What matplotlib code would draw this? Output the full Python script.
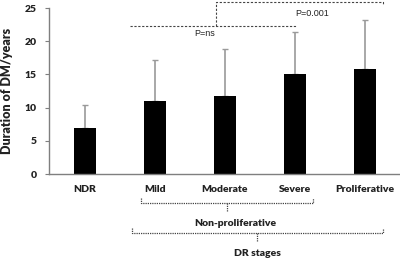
import matplotlib
matplotlib.use("Agg")
import matplotlib.pyplot as plt
import numpy as np

categories = ["NDR", "Mild", "Moderate", "Severe", "Proliferative"]
means = [6.9, 11.0, 11.7, 15.1, 15.8]
sds = [3.5, 6.1, 7.2, 6.3, 7.4]
yticks = [0, 5, 10, 15, 20, 25]

W, H = 400, 262
fig = plt.figure(figsize=(W / 100, H / 100), dpi=100)
ax = fig.add_axes([49 / W, 1 - 174 / H, 350 / W, 166 / H])

x = np.arange(len(categories))
ax.bar(x, means, width=0.314, color="black", zorder=2)
ax.errorbar(x, means, yerr=[np.zeros(len(sds)), sds], fmt="none",
            ecolor="#9a9a9a", elinewidth=1.2, capsize=2.5, capthick=1.0, zorder=1)

ax.set_xlim(-0.514, 4.486)
ax.set_ylim(0, 25)
ax.set_yticks(yticks)
ax.set_xticks(x)
ax.set_xticklabels(categories)
for s in ["top", "right"]:
    ax.spines[s].set_visible(False)
for s in ["left", "bottom"]:
    ax.spines[s].set_color("#7f7f7f")
    ax.spines[s].set_linewidth(1.0)
ax.tick_params(axis="y", length=3, color="#7f7f7f", pad=6, labelsize=7.5)
ax.tick_params(axis="x", length=0, pad=8, labelsize=7.5)
for lab in ax.get_xticklabels() + ax.get_yticklabels():
    lab.set_fontweight("heavy")
    lab.set_fontfamily("Lato")
    lab.set_color("#222222")
ax.set_ylabel("Duration of DM/years", fontsize=9, fontweight="heavy",
              fontfamily="Lato", labelpad=8, color="#222222")

# significance annotations (data coordinates)
dash = dict(color="#444444", lw=0.8, ls=(0, (2, 1.5)), clip_on=False)
ax.plot([0.643, 3.03], [22.3, 22.3], **dash)
ax.text(1.71, 21.2, "P=ns", fontsize=6.5, ha="center", va="center",
        fontfamily="Liberation Sans", color="#222222")
ax.plot([1.87, 1.87, 4.26, 4.26], [22.3, 25.9, 25.9, 25.45], **dash)
ax.text(3.24, 24.1, "P=0.001", fontsize=6.5, ha="center", va="center",
        fontfamily="Liberation Sans", color="#222222")

# bottom brackets in figure pixel coords
def fx(px):
    return px / W

def fy(py):
    return 1 - py / H

bdash = dict(color="#444444", lw=0.9, ls=(0, (1, 0.8)), transform=fig.transFigure)
# Non-proliferative bracket
fig.add_artist(plt.Line2D([fx(141), fx(141), fx(313), fx(313)],
                          [fy(198), fy(203), fy(203), fy(198)], **bdash))
fig.add_artist(plt.Line2D([fx(227), fx(227)], [fy(203), fy(212)], **bdash))
fig.text(fx(235), fy(224), "Non-proliferative", fontsize=7.5, fontweight="heavy",
         fontfamily="Lato", ha="center", va="center", color="#222222")
# DR stages bracket
fig.add_artist(plt.Line2D([fx(132), fx(132), fx(383), fx(383)],
                          [fy(228), fy(233), fy(233), fy(228)], **bdash))
fig.add_artist(plt.Line2D([fx(257), fx(257)], [fy(233), fy(242)], **bdash))
fig.text(fx(257), fy(254), "DR stages", fontsize=7.5, fontweight="heavy",
         fontfamily="Lato", ha="center", va="center", color="#222222")

fig.savefig("out.png", dpi=100)
